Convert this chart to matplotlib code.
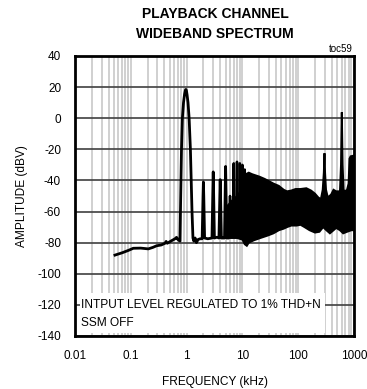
import numpy as np
import matplotlib
matplotlib.use("Agg")
import matplotlib.pyplot as plt
from matplotlib.patches import Rectangle
from matplotlib.ticker import LogLocator, NullFormatter, FixedLocator

plt.rcParams['font.family'] = ['Liberation Sans', 'DejaVu Sans']

# ---- data (frequency in kHz, amplitude in dBV) ----
# low-frequency trace incl. fundamental and the first harmonics
trace_f = [0.052, 0.07, 0.09, 0.111, 0.15, 0.206, 0.25, 0.29, 0.35, 0.41, 0.43, 0.45,
           0.54, 0.62, 0.66, 0.70, 0.76,
           0.81, 0.84, 0.88, 0.92, 0.95, 0.97, 0.99, 1.02, 1.06, 1.11, 1.17, 1.25, 1.30,
           1.35, 1.42, 1.50, 1.60, 1.75, 1.90,
           1.97, 2.0, 2.03, 2.10, 2.4, 2.85, 2.96, 3.0, 3.04, 3.15, 3.5, 3.8, 3.95, 4.0, 4.05,
           4.2, 4.5, 4.78, 4.94, 5.0, 5.06, 5.25, 5.5]
trace_a = [-88, -86.5, -85, -83.6, -83.5, -84, -83, -82, -81.5, -80.4, -79.2, -80.4,
           -78.7, -77.5, -76.6, -78, -79,
           -20, 0, 10, 15.5, 18, 18.5, 18, 15, 10, 0, -20, -60, -77,
           -79, -77, -80, -78, -77.5, -77.5,
           -50, -41, -50, -77, -77.5, -77, -45, -34.5, -45, -77, -76.5, -77, -48, -39.5, -48,
           -77, -77, -77, -42, -31, -42, -77, -77]

# harmonics riding on the dense region
harm_f = [6.0, 7.0, 8.0, 9.0, 10.0, 11.0]
harm_a = [-50, -29, -28, -29, -30, -33]

# dense region envelope (upper and lower)
up_f = [5.5, 6.5, 7.5, 8.5, 9.5, 10.5, 11.5, 13, 15, 20, 25, 30, 36, 45, 55, 63, 75, 90, 110,
        140, 170, 200, 230, 255, 275, 288, 296, 303, 315, 340, 390, 430, 480, 560, 585,
        598, 604, 610, 625, 650, 690, 750, 800, 830, 870, 1000]
up_a = [-56, -53, -51, -49, -46, -41, -36, -35, -36, -37.5, -39, -40.5, -42, -43.5, -46, -47,
        -46.5, -45.5, -45.5, -45, -46.5, -48.5, -51, -52, -46, -35, -22.5, -35, -46, -51,
        -49, -46, -47, -47, -30, -5, 3.8, -5, -30, -46, -47, -46, -42, -26, -24.5, -24]
lo_f = [5.5, 8, 10, 11, 12, 13, 16, 21, 28, 36, 45, 55, 63, 75, 94, 110, 130, 160, 200,
        240, 280, 320, 370, 430, 480, 560, 640, 750, 900, 1000]
lo_a = [-77, -77, -78, -81, -82, -80, -78.5, -77, -75.5, -74, -72, -71, -70, -69, -69,
        -68.5, -70, -72, -73.5, -73, -70, -72, -74, -72, -70.5, -72, -74, -73, -72, -72]

x_ticks = [0.01, 0.1, 1, 10, 100, 1000]
x_labels = ['0.01', '0.1', '1', '10', '100', '1000']
y_ticks = [40, 20, 0, -20, -40, -60, -80, -100, -120, -140]

# ---- figure ----
fig = plt.figure(figsize=(3.67, 3.89), dpi=100)
ax = fig.add_axes([75/367, 1-336/389, 279/367, 280/389])

ax.set_xscale('log')
ax.set_xlim(0.01, 1000)
ax.set_ylim(-140, 40)

ax.xaxis.set_major_locator(FixedLocator(x_ticks))
ax.set_xticklabels(x_labels)
ax.xaxis.set_minor_locator(LogLocator(base=10, subs=np.arange(2, 10), numticks=20))
ax.xaxis.set_minor_formatter(NullFormatter())
ax.set_yticks(y_ticks)
ax.set_yticklabels([str(v) for v in y_ticks])

ax.grid(True, which='both', axis='x', color='#c8c8c8', lw=1.2, zorder=0)
ax.grid(True, which='major', axis='y', color='#404040', lw=1.2, zorder=0)
ax.set_axisbelow(True)

ax.tick_params(which='both', length=0, labelsize=8.5, colors='black')
ax.tick_params(axis='x', pad=10)
ax.tick_params(axis='y', pad=10)

for s in ax.spines.values():
    s.set_linewidth(2)
    s.set_color('black')

# dense region
poly_f = np.concatenate([up_f, lo_f[::-1]])
poly_a = np.concatenate([up_a, lo_a[::-1]])
ax.fill(poly_f, poly_a, color='black', lw=1.4, zorder=3)

# trace
ax.plot(trace_f, trace_a, color='black', lw=2.0, zorder=4, solid_joinstyle='round')
for f, a in zip(harm_f, harm_a):
    ax.plot([f * 0.97, f * 0.99, f, f * 1.01, f * 1.03], [-75, a - 8, a, a - 8, -75],
            color='black', lw=1.8, zorder=4)

# annotation box
ax.add_patch(Rectangle((0.018, 0.012), 0.877, 0.142, transform=ax.transAxes,
                       facecolor='white', edgecolor='none', zorder=2))
ax.text(0.0215, 0.111, 'INTPUT LEVEL REGULATED TO 1% THD+N', transform=ax.transAxes,
        fontsize=8.6, va='center', ha='left', zorder=5)
ax.text(0.0215, 0.046, 'SSM OFF', transform=ax.transAxes,
        fontsize=8.6, va='center', ha='left', zorder=5)

ax.set_xlabel('FREQUENCY (kHz)', fontsize=8.6, labelpad=10)
ax.set_ylabel('AMPLITUDE (dBV)', fontsize=8.6, labelpad=7)

fig.text(215/367, 1-14/389, 'PLAYBACK CHANNEL', ha='center', va='center',
         fontsize=10, fontweight='bold')
fig.text(215/367, 1-34/389, 'WIDEBAND SPECTRUM', ha='center', va='center',
         fontsize=10, fontweight='bold')
fig.text(353/367, 1-49/389, 'toc59', ha='right', va='center', fontsize=7)

fig.savefig('out.png', dpi=100)
